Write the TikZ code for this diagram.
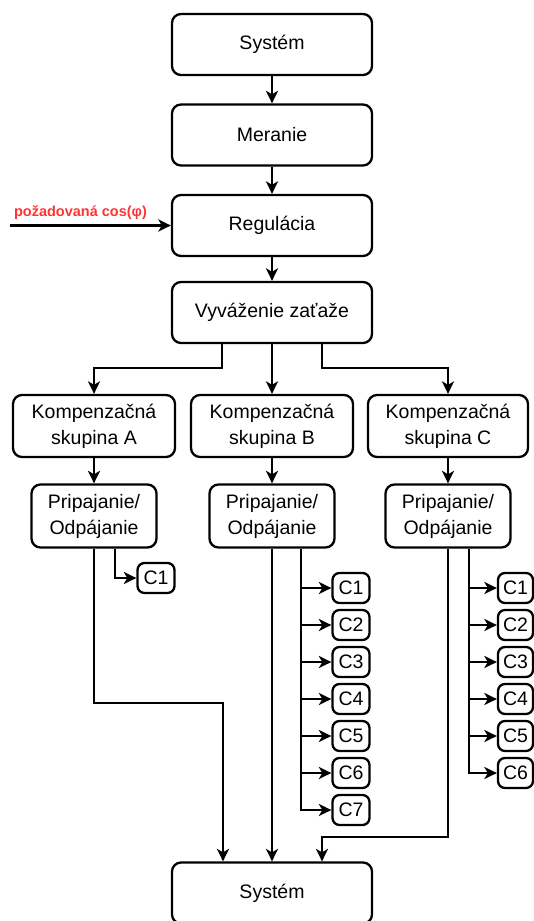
\documentclass[tikz,border=0pt]{standalone}
\usepackage{fontspec}
\setmainfont{Liberation Sans}
\usetikzlibrary{arrows.meta}
\definecolor{labelred}{HTML}{FF3333}

\begin{document}
\begin{tikzpicture}[x=1pt,y=-1pt,
  box/.style={draw, line width=2.3pt, rounded corners=9pt, align=center,
    inner sep=0pt, font=\fontsize{19.5}{26}\selectfont},
  mainbox/.style={box, minimum width=200pt, minimum height=61pt},
  groupbox/.style={box, minimum width=162pt, minimum height=62pt},
  switchbox/.style={box, minimum width=125pt, minimum height=63pt},
  capbox/.style={draw, line width=2.3pt, rounded corners=7pt, inner sep=0pt,
    minimum width=37pt, minimum height=30pt, font=\fontsize{19.5}{22}\selectfont},
  link/.style={line width=2.3pt, -{Stealth[length=12.5pt,width=12pt,inset=3.5pt]}},
]
\useasboundingbox (0,0) rectangle (534,921);
\clip (0,0) rectangle (534,921);

% main chain
\node[mainbox] (sysTop) at (272,44.5) {Systém};
\node[mainbox] (mer) at (272,135) {Meranie};
\node[mainbox] (reg) at (272,225.5) {Regulácia};
\node[mainbox] (vyv) at (272,312.5) {Vyváženie zaťaže};

% compensation groups
\node[groupbox] (kA) at (94,426) {Kompenzačná\\skupina A};
\node[groupbox] (kB) at (272,426) {Kompenzačná\\skupina B};
\node[groupbox, minimum width=160pt] (kC) at (448,426) {Kompenzačná\\skupina C};

\node[switchbox] (pA) at (94,516) {Pripajanie/\\Odpájanie};
\node[switchbox] (pB) at (272,516) {Pripajanie/\\Odpájanie};
\node[switchbox] (pC) at (448,516) {Pripajanie/\\Odpájanie};

\node[mainbox] (sysBot) at (272,893) {Systém};

% capacitor stages
\node[capbox] (a1) at (156,578) {C1};
\foreach \k in {1,...,7}
  \node[capbox] (b\k) at (351,{588+37*(\k-1)}) {C\k};
\foreach \k in {1,...,6}
  \node[capbox, minimum width=35pt] (c\k) at (515.5,{588+37*(\k-1)}) {C\k};

% lane positions
\coordinate (splitL) at (222,0);
\coordinate (splitR) at (322,0);
\coordinate (laneA) at (223,0);
\coordinate (laneC) at (322,0);
\coordinate (trunkA) at (115,0);
\coordinate (trunkB) at (301,0);
\coordinate (trunkC) at (469,0);

% setpoint input
\coordinate (inStart) at (10,225.5);
\node[font=\fontsize{14.5}{17}\selectfont\bfseries, text=labelred] (setp) at (80.5,213) {požadovaná cos(φ)};
\draw[link] (inStart) -- (reg.west);

% chain arrows
\draw[link] (sysTop) -- (mer);
\draw[link] (mer) -- (reg);
\draw[link] (reg) -- (vyv);

% split to groups
\draw[link] (vyv.south -| splitL) -- (222,368) -| (kA.north);
\draw[link] (vyv) -- (kB);
\draw[link] (vyv.south -| splitR) -- (322,368) -| (kC.north);

\draw[link] (kA) -- (pA);
\draw[link] (kB) -- (pB);
\draw[link] (kC) -- (pC);

% stage feeders
\draw[link] (pA.south -| trunkA) |- (a1);
\draw[link] (pB.south -| trunkB) |- (b7);
\foreach \k in {1,...,6}
  \draw[link] (trunkB |- b\k) -- (b\k);
\draw[link] (pC.south -| trunkC) |- (c6);
\foreach \k in {1,...,5}
  \draw[link] (trunkC |- c\k) -- (c\k);

% returns to the system
\draw[link] (pA.south) -- (94,703) -| (sysBot.north -| laneA);
\draw[link] (pB) -- (sysBot);
\draw[link] (pC.south) -- (448,837) -| (sysBot.north -| laneC);
\end{tikzpicture}
\end{document}
